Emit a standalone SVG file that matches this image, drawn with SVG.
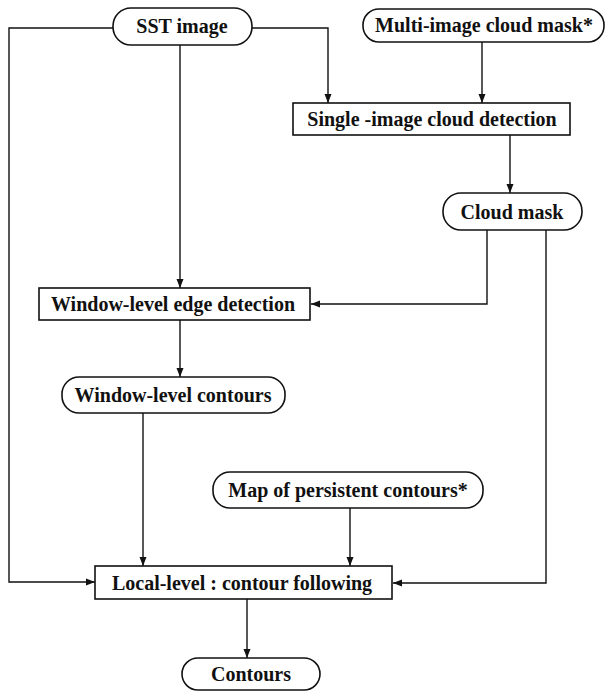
<svg xmlns="http://www.w3.org/2000/svg" width="608" height="692" viewBox="0 0 608 692">
<style>
.n{fill:#fff;stroke:#111;stroke-width:1.6}
.t{font-family:"Liberation Serif","Times New Roman",serif;font-weight:bold;font-size:20px;fill:#111;text-anchor:middle}
.c{fill:none;stroke:#111;stroke-width:1.4}
</style>
<defs>
<marker id="a" markerWidth="10" markerHeight="8" refX="9" refY="4" orient="auto" markerUnits="userSpaceOnUse">
<path d="M0,0.5 L9,4 L0,7.5 Z" fill="#111"/>
</marker>
</defs>
<rect width="608" height="692" fill="#fff"/>
<g id="connectors">
<path class="c" d="M113,28 H9 V582 H95" marker-end="url(#a)"/>
<path class="c" d="M180,45 V288" marker-end="url(#a)"/>
<path class="c" d="M252,28 H328 V103" marker-end="url(#a)"/>
<path class="c" d="M482,42 V103" marker-end="url(#a)"/>
<path class="c" d="M510,135 V193" marker-end="url(#a)"/>
<path class="c" d="M487,230 V304 H311" marker-end="url(#a)"/>
<path class="c" d="M546,230 V583 H393" marker-end="url(#a)"/>
<path class="c" d="M180,320 V377" marker-end="url(#a)"/>
<path class="c" d="M143,413 V566" marker-end="url(#a)"/>
<path class="c" d="M350,508 V566" marker-end="url(#a)"/>
<path class="c" d="M247,599 V658" marker-end="url(#a)"/>
</g>
<g id="sst"><rect class="n" x="113" y="8" width="139" height="37" rx="18"/><text class="t" x="182" y="33">SST image</text></g>
<g id="multi"><rect class="n" x="363" y="9" width="241" height="33" rx="16"/><text class="t" x="484" y="32">Multi-image cloud mask*</text></g>
<g id="single"><rect class="n" x="293" y="103" width="277" height="32"/><text class="t" x="432" y="126">Single -image cloud detection</text></g>
<g id="cloudmask"><rect class="n" x="443" y="193" width="139" height="37" rx="18"/><text class="t" x="512" y="219">Cloud mask</text></g>
<g id="edge"><rect class="n" x="39" y="288" width="271" height="32"/><text class="t" x="173" y="311">Window-level edge detection</text></g>
<g id="wcont"><rect class="n" x="62" y="377" width="223" height="36" rx="17"/><text class="t" x="173" y="402">Window-level contours</text></g>
<g id="persist"><rect class="n" x="213" y="472" width="270" height="36" rx="17"/><text class="t" x="348" y="497">Map of persistent contours*</text></g>
<g id="local"><rect class="n" x="95" y="566" width="297" height="33"/><text class="t" x="242" y="590">Local-level : contour following</text></g>
<g id="contours"><rect class="n" x="182" y="658" width="138" height="32" rx="16"/><text class="t" x="251" y="681">Contours</text></g>
</svg>
